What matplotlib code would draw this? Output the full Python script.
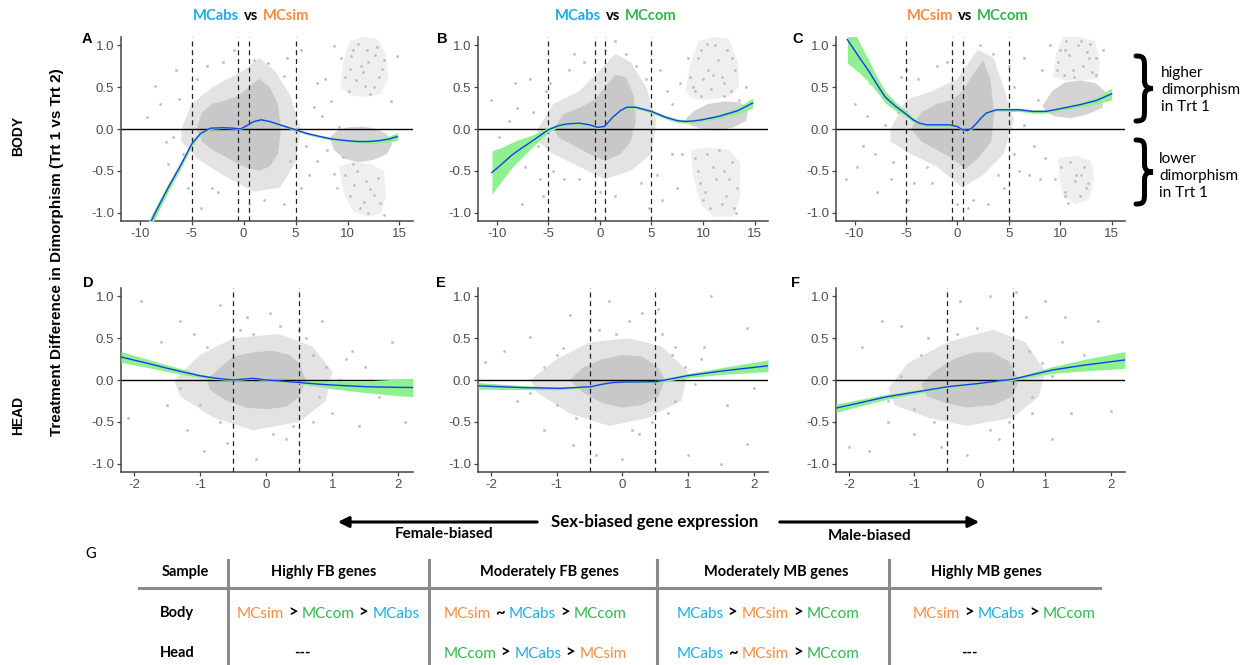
import numpy as np
import matplotlib.pyplot as plt
from matplotlib.offsetbox import TextArea, HPacker, AnnotationBbox
from matplotlib.path import Path
from matplotlib.patches import PathPatch

plt.rcParams['axes.unicode_minus'] = False

W, H = 1253, 665
BLUE = '#1AADE8'
ORANGE = '#FA8B3F'
GREEN = '#2EB84E'
PT = '#BDBDBD'

# ---- smooth fits (x, y, half-width of ribbon) ----
a_fit_x = [-10.3, -9.5, -8.5, -7.3, -6.0, -5.0, -4.2, -3.2, -2.0, -1.0, -0.3, 0.3, 1.0, 1.7, 2.5, 3.5,
           5.0, 6.0, 7.0, 8.5, 10.0, 11.0, 12.0, 13.0, 14.0, 14.8]
a_fit_y = [-1.45, -1.26, -1.0, -0.71, -0.42, -0.18, -0.06, 0.01, 0.015, 0.01, 0.0, 0.04, 0.09, 0.11, 0.09,
           0.05, -0.01, -0.05, -0.08, -0.12, -0.14, -0.15, -0.15, -0.14, -0.12, -0.09]
a_fit_se = [0.09, 0.08, 0.06, 0.05, 0.04, 0.03, 0.02, 0.015, 0.01, 0.01, 0.01, 0.01, 0.01, 0.01, 0.01, 0.01,
            0.015, 0.015, 0.015, 0.015, 0.015, 0.015, 0.02, 0.025, 0.035, 0.045]

b_fit_x = [-10.45, -9.5, -8.5, -7.7, -6.5, -5.0, -4.0, -3.2, -2.0, -1.0, -0.2, 0.45, 1.25, 2.0, 2.6, 3.5,
           5.0, 6.4, 7.5, 8.3, 9.0, 9.9, 11.5, 13.4, 14.8]
b_fit_y = [-0.52, -0.42, -0.31, -0.24, -0.14, -0.01, 0.04, 0.06, 0.07, 0.05, 0.02, 0.03, 0.14, 0.22, 0.26,
           0.26, 0.21, 0.14, 0.10, 0.09, 0.095, 0.11, 0.15, 0.22, 0.31]
b_fit_se = [0.26, 0.2, 0.15, 0.12, 0.07, 0.03, 0.02, 0.015, 0.015, 0.015, 0.015, 0.015, 0.015, 0.015, 0.015,
            0.015, 0.02, 0.02, 0.02, 0.02, 0.02, 0.02, 0.025, 0.035, 0.06]

c_fit_x = [-10.7, -9.5, -8.6, -7.8, -7.0, -6.0, -5.0, -4.3, -3.7, -3.0, -2.0, -0.8, 0.0, 0.5, 1.0, 1.4,
           1.8, 2.3, 2.8, 3.8, 5.0, 6.0, 7.3, 8.6, 9.9, 11.9, 13.5, 15.0]
c_fit_y = [1.07, 0.85, 0.69, 0.53, 0.38, 0.27, 0.18, 0.11, 0.07, 0.05, 0.05, 0.05, 0.03, -0.01, -0.02, 0.01,
           0.06, 0.13, 0.19, 0.23, 0.23, 0.23, 0.21, 0.21, 0.24, 0.29, 0.34, 0.42]
c_fit_se = [0.28, 0.18, 0.13, 0.09, 0.07, 0.05, 0.035, 0.025, 0.02, 0.015, 0.015, 0.015, 0.015, 0.015, 0.015,
            0.015, 0.015, 0.015, 0.015, 0.015, 0.02, 0.02, 0.02, 0.02, 0.02, 0.025, 0.04, 0.07]

d_fit_x = [-2.2, -1.8, -1.5, -1.2, -1.0, -0.75, -0.5, -0.2, 0.0, 0.25, 0.5, 0.8, 1.0, 1.5, 2.0, 2.22]
d_fit_y = [0.275, 0.2, 0.14, 0.085, 0.05, 0.02, 0.0, 0.02, 0.0, -0.015, -0.03, -0.05, -0.06, -0.08, -0.088, -0.09]
d_fit_se = [0.065, 0.05, 0.04, 0.03, 0.02, 0.015, 0.01, 0.01, 0.01, 0.01, 0.015, 0.03, 0.045, 0.07, 0.1, 0.11]

e_fit_x = [-2.2, -1.55, -0.95, -0.48, -0.3, -0.14, 0.0, 0.52, 0.98, 1.49, 2.22]
e_fit_y = [-0.07, -0.09, -0.10, -0.08, -0.05, -0.03, -0.025, -0.02, 0.05, 0.105, 0.17]
e_fit_se = [0.04, 0.025, 0.015, 0.01, 0.01, 0.01, 0.01, 0.015, 0.025, 0.04, 0.07]

f_fit_x = [-2.2, -1.42, -0.49, 0.0, 0.51, 1.11, 1.62, 2.22]
f_fit_y = [-0.336, -0.2, -0.08, -0.04, 0.01, 0.12, 0.18, 0.24]
f_fit_se = [0.05, 0.03, 0.015, 0.01, 0.015, 0.04, 0.07, 0.1]

# ---- dense point clouds (outlines) ----
a_core = [(-4.5, 0.0), (-4, 0.2), (-3, 0.3), (-1.5, 0.35), (-0.5, 0.4), (0.5, 0.5), (1.5, 0.6), (2.5, 0.5),
          (3.3, 0.3), (3.6, 0.0), (3.3, -0.3), (2.5, -0.45), (1.5, -0.5), (0, -0.45), (-1.5, -0.35),
          (-3, -0.25), (-4, -0.15)]
a_halo = [(-6, 0.0), (-5, 0.3), (-3, 0.5), (0, 0.7), (1.5, 0.85), (3, 0.7), (4.5, 0.4), (5.5, 0), (5, -0.4),
          (3.5, -0.7), (1, -0.75), (-2, -0.55), (-4.5, -0.35), (-6, -0.15)]
a_band = [(8.3, -0.1), (9.0, -0.02), (10, 0.02), (11.5, 0.03), (12.8, 0.0), (13.8, -0.06), (14.3, -0.18),
          (13.8, -0.3), (12.5, -0.37), (11, -0.4), (9.6, -0.35), (8.7, -0.25)]
a_light = [[(9.3, 0.5), (9.6, 0.8), (10.2, 1.05), (11.5, 1.1), (12.8, 1.08), (13.7, 0.9), (13.9, 0.6),
            (13.2, 0.42), (11.8, 0.38), (10.3, 0.4)],
           [(9.2, -0.45), (10.5, -0.4), (12.3, -0.42), (13.5, -0.5), (13.7, -0.8), (13.3, -1.0), (12, -1.05),
            (10.5, -0.98), (9.6, -0.75)]]

b_core = [(-4.5, 0.0), (-3.5, 0.18), (-2, 0.25), (-0.5, 0.35), (0.5, 0.5), (1.5, 0.65), (2.5, 0.62),
          (3.3, 0.4), (3.5, 0.1), (3.0, -0.15), (2, -0.3), (0.5, -0.38), (-1, -0.3), (-2.5, -0.2), (-4, -0.1)]
b_halo = [(-6, 0), (-4.5, 0.3), (-2, 0.45), (0, 0.7), (1.5, 0.9), (3, 0.8), (4.5, 0.5), (5.5, 0.1),
          (5, -0.3), (3, -0.5), (0.5, -0.6), (-2, -0.45), (-4.5, -0.3), (-6, -0.15)]
b_band = [(8.3, 0.12), (9.2, 0.22), (10.5, 0.3), (12, 0.33), (13.5, 0.32), (14.4, 0.26), (14.2, 0.1),
          (13, 0.02), (11.5, -0.02), (10, 0.0), (8.8, 0.04)]
b_light = [[(8.3, 0.45), (8.8, 0.8), (9.6, 1.05), (11, 1.1), (12.5, 1.08), (13.4, 0.8), (13.5, 0.5),
            (12.5, 0.38), (10.5, 0.35), (9, 0.36)],
           [(8.8, -0.25), (10.5, -0.22), (12.5, -0.25), (13.6, -0.4), (13.6, -0.8), (13.0, -1.05), (11.0, -1.05),
            (9.8, -0.9), (9.0, -0.55)]]

c_core = [(-4.5, 0.0), (-3.5, 0.2), (-2, 0.3), (-0.5, 0.35), (0.5, 0.45), (1.5, 0.65), (2.5, 0.82),
          (3.2, 0.6), (3.6, 0.2), (3.3, -0.15), (2, -0.35), (0.8, -0.48), (-0.5, -0.35), (-2, -0.25),
          (-3.5, -0.15)]
c_halo = [(-6.5, 0), (-5, 0.35), (-2.5, 0.45), (0, 0.6), (2, 0.95), (3.5, 0.85), (4.5, 0.5), (5.5, 0.1),
          (4.5, -0.3), (2.5, -0.55), (0.5, -0.7), (-2, -0.45), (-4.5, -0.3), (-6.5, -0.15)]
c_band = [(8.3, 0.28), (9.2, 0.45), (10.5, 0.56), (12, 0.58), (13.4, 0.55), (14.4, 0.45), (14.1, 0.25),
          (12.5, 0.17), (11, 0.13), (9.5, 0.15), (8.6, 0.2)]
c_light = [[(9.3, 0.62), (9.6, 0.9), (10.3, 1.1), (12, 1.1), (13.4, 1.05), (13.9, 0.8), (13.7, 0.6),
            (12, 0.58), (10.5, 0.58)],
           [(9.8, -0.35), (11.5, -0.32), (13, -0.38), (13.3, -0.6), (12.8, -0.85), (11.5, -0.9), (10.3, -0.8),
            (9.9, -0.55)]]

d_core = [(-0.9, 0.0), (-0.7, 0.15), (-0.5, 0.28), (-0.2, 0.33), (0.1, 0.35), (0.35, 0.3), (0.5, 0.2),
          (0.6, 0.0), (0.5, -0.2), (0.3, -0.32), (0, -0.35), (-0.3, -0.33), (-0.6, -0.25), (-0.85, -0.12)]
d_halo = [(-1.4, 0.0), (-1.0, 0.3), (-0.5, 0.5), (0.2, 0.55), (0.7, 0.4), (1.0, 0.1), (0.9, -0.25),
          (0.5, -0.5), (-0.2, -0.6), (-0.8, -0.45), (-1.3, -0.2)]
e_core = [(-0.8, 0.0), (-0.6, 0.15), (-0.3, 0.25), (0.0, 0.3), (0.3, 0.28), (0.55, 0.15), (0.65, 0.0),
          (0.55, -0.2), (0.3, -0.3), (0.0, -0.33), (-0.3, -0.28), (-0.6, -0.15)]
e_halo = [(-1.4, 0), (-1.0, 0.25), (-0.5, 0.45), (0.1, 0.5), (0.6, 0.4), (1.0, 0.1), (0.9, -0.25),
          (0.4, -0.45), (-0.2, -0.55), (-0.8, -0.4), (-1.3, -0.15)]
f_core = [(-0.9, -0.05), (-0.7, 0.1), (-0.4, 0.25), (-0.1, 0.33), (0.2, 0.33), (0.45, 0.22), (0.6, 0.0),
          (0.5, -0.2), (0.2, -0.3), (-0.2, -0.33), (-0.5, -0.28), (-0.8, -0.2)]
f_halo = [(-1.4, -0.1), (-1.1, 0.2), (-0.5, 0.45), (0.2, 0.6), (0.7, 0.45), (1.0, 0.1), (0.9, -0.2),
          (0.5, -0.45), (-0.2, -0.55), (-0.8, -0.45), (-1.3, -0.3)]

# ---- scattered single genes (x, y) ----
a_pts = [(-9.3, 0.14), (-8.5, 0.52), (-7.3, -0.42), (-6.2, 0.36), (-5.4, -0.7), (-4.1, -0.95), (-3.5, 0.75),
         (-0.9, 0.95), (1.0, 0.83), (2.3, 0.79), (3.9, 0.63), (5.5, 0.95), (7.1, 0.55), (8.4, 0.34), (8.7, 0.99),
         (10.3, 0.87), (11.3, 0.75), (11.9, 0.95), (12.5, 0.5), (13.5, 0.83), (14.8, 0.87), (9.6, -0.34),
         (10.6, -0.67), (11.6, -0.87), (12.5, -0.79), (13.5, -1.03), (8.7, -0.54), (7.1, -0.38), (5.5, -0.7),
         (3.9, -0.9), (4.5, -0.38), (6.8, 0.26), (9.2, 0.02), (13.8, -0.14), (14.2, 0.34), (6.0, -0.2),
         (7.8, 0.6), (9.0, -0.7), (-6.8, -0.1), (-2.5, -0.75),
         (9.8, 0.62), (10.1, 0.45), (10.5, 0.95), (10.8, 0.58), (11.0, 1.02), (11.5, 0.68), (12.0, 0.8),
         (12.2, 0.42), (12.8, 0.98), (13.0, 0.62), (13.3, 0.72), (10.2, 0.72), (11.7, 0.52), (12.6, 0.88),
         (9.4, 0.85), (9.8, -0.55), (10.2, -0.8), (10.9, -0.5), (11.2, -0.95), (11.8, -0.62), (12.2, -0.72),
         (12.9, -0.58), (13.1, -0.88), (10.5, -0.42), (12.0, -1.0), (-8.0, 0.3), (-7.5, -0.15), (-6.5, 0.7),
         (-5.8, -0.3), (-4.5, 0.6), (-3.0, -0.7), (-2.0, 0.8), (0.5, -0.9), (2.0, -0.85), (4.2, 0.85),
         (6.3, -0.55), (7.5, 0.15), (8.0, -0.25)]
b_pts = [(-10.5, 0.35), (-9.0, -0.25), (-8.2, 0.55), (-7.5, -0.9), (-6.5, 0.2), (-5.8, -0.6), (-5.2, 0.45),
         (-4.5, -0.5), (-3.0, 0.7), (-1.5, 0.8), (0.5, 0.95), (1.5, 1.05), (2.5, 0.9), (3.5, 0.75), (4.5, 0.6),
         (5.5, -0.55), (6.5, 0.45), (7.5, -0.7), (8.5, 0.85), (9.0, 0.5), (9.8, 0.95), (10.5, 0.7), (11.2, 1.0),
         (12.0, 0.55), (12.8, 0.85), (13.5, 0.35), (14.2, 0.5), (8.0, -0.3), (9.5, -0.5), (10.2, -0.75),
         (11.0, -0.45), (11.8, -0.9), (12.5, -0.6), (13.2, -1.0), (6.0, -0.85), (7.0, 0.3), (4.8, -0.95),
         (-6.0, -0.2), (-2.0, -0.6), (-8.8, 0.1),
         (8.7, 0.62), (9.2, 0.45), (9.5, 0.85), (10.0, 0.6), (10.4, 1.02), (10.8, 0.48), (11.5, 0.82),
         (11.8, 0.62), (12.3, 0.95), (12.7, 0.45), (13.1, 0.7), (9.8, 0.4), (11.0, 0.65), (12.0, 0.4),
         (9.2, -0.35), (9.7, -0.65), (10.4, -0.3), (10.7, -0.95), (11.3, -0.6), (11.6, -0.25), (12.2, -0.8),
         (12.8, -0.4), (13.3, -0.7), (10.0, -0.85), (12.0, -0.5), (13.0, -0.95), (-9.8, -0.1), (-8.0, 0.25),
         (-7.2, -0.45), (-6.8, 0.6), (-5.5, -0.8), (-4.8, 0.55), (-3.5, -0.6), (-2.5, 0.9), (0.0, -0.75),
         (1.5, -0.8), (4.0, -0.65), (5.8, 0.7), (7.0, -0.3), (7.8, 0.55)]
c_pts = [(-10.8, -0.6), (-10.0, 0.3), (-9.2, -0.2), (-8.5, 0.55), (-7.8, -0.75), (-7.0, 0.05), (-6.3, -0.4),
         (-5.5, 0.62), (-4.8, -0.85), (-3.8, 0.6), (-2.5, -0.65), (-1.0, 0.8), (0.0, -0.9), (1.0, -0.95),
         (2.2, 1.0), (3.5, 0.9), (4.5, -0.7), (5.5, 0.5), (6.5, 0.85), (7.5, -0.2), (8.2, 0.7), (9.0, 1.0),
         (9.8, 0.8), (10.5, 0.95), (11.2, 0.7), (12.0, 1.05), (12.8, 0.85), (13.5, 0.65), (14.2, 0.95),
         (7.0, -0.55), (8.5, -0.35), (9.5, -0.6), (10.5, -0.8), (11.5, -0.55), (12.5, -0.7), (5.5, -0.3),
         (6.5, 0.05), (-6.0, 0.25), (-3.0, -0.45), (4.0, -0.55),
         (9.7, 0.7), (10.0, 0.95), (10.4, 0.65), (10.9, 0.88), (11.3, 0.62), (11.7, 1.0), (12.2, 0.75),
         (12.6, 0.92), (13.1, 0.68), (13.5, 0.85), (10.6, 1.05), (12.9, 1.02), (10.1, -0.45), (10.5, -0.75),
         (11.0, -0.4), (11.4, -0.62), (11.9, -0.8), (12.3, -0.45), (12.7, -0.65), (10.8, -0.88), (12.0, -0.55),
         (-9.8, -0.45), (-8.8, 0.15), (-8.0, -0.3), (-7.4, 0.45), (-6.5, -0.6), (-5.8, 0.2), (-5.0, 0.7),
         (-4.2, -0.65), (-2.0, 0.75), (0.5, 0.8), (1.5, -0.85), (3.0, -0.9), (5.0, 0.75), (6.0, -0.5),
         (7.8, 0.35), (8.0, -0.6)]
d_pts = [(-1.9, 0.95), (-2.1, -0.45), (-1.8, 0.2), (-1.6, 0.45), (-1.5, -0.3), (-1.3, 0.7), (-1.2, -0.6),
         (-1.1, 0.55), (-0.95, -0.85), (-0.7, 0.9), (-0.6, -0.75), (-0.3, 0.75), (-0.15, -0.95), (0.05, 0.8),
         (0.2, 0.65), (0.3, -0.7), (0.5, 0.6), (0.7, -0.5), (0.85, 0.7), (1.0, -0.4), (1.2, 0.25), (1.4, -0.55),
         (1.5, 0.15), (1.9, 0.45), (2.1, -0.5), (1.7, -0.2), (-1.2, 0.1), (-1.0, -0.3), (-0.9, 0.4), (-0.7, -0.5),
         (0.7, 0.3), (0.8, -0.2), (0.6, 0.5), (0.9, 0.15), (-0.4, 0.6), (0.1, -0.65), (-0.2, 0.55), (0.4, -0.55),
         (1.1, 0.0), (-1.3, -0.1), (1.3, 0.35)]
e_pts = [(-2.1, 0.22), (-1.8, 0.35), (-1.6, -0.25), (-1.4, 0.52), (-1.2, -0.6), (-1.0, 0.3), (-0.8, 0.78),
         (-0.75, -0.78), (-0.5, 0.6), (-0.4, -0.9), (-0.2, 0.95), (0.0, -0.95), (0.1, 0.7), (0.25, -0.65),
         (0.3, 0.8), (0.55, 0.85), (0.7, -0.4), (0.8, 0.4), (1.0, -0.9), (1.2, 0.25), (1.35, 1.0), (1.5, -1.0),
         (1.6, -0.3), (1.9, 0.62), (1.9, -0.77), (2.0, -0.1), (-1.2, 0.15), (-1.0, -0.3), (-0.9, 0.38),
         (-0.7, -0.45), (0.75, 0.3), (0.8, -0.25), (0.6, 0.55), (0.95, 0.15), (-0.35, 0.6), (0.15, -0.6),
         (-0.1, 0.55), (0.45, -0.5), (1.1, -0.05), (-1.4, -0.15), (1.25, 0.4)]
f_pts = [(-2.0, -0.8), (-1.8, 0.4), (-1.7, -0.85), (-1.5, 0.7), (-1.4, -0.5), (-1.2, 0.65), (-1.0, -0.65),
         (-0.8, 0.5), (-0.6, -0.8), (-0.3, 0.95), (-0.2, -0.9), (0.15, 1.0), (0.3, -0.7), (0.55, 1.05),
         (0.7, 0.75), (0.8, -0.4), (1.0, 0.95), (1.1, -0.7), (1.3, 0.75), (1.4, -0.4), (1.8, 0.7), (2.0, -0.37),
         (1.6, 0.3), (2.1, 0.2), (-1.2, 0.05), (-1.0, -0.35), (-0.9, 0.3), (-0.7, -0.5), (0.75, 0.35),
         (0.8, -0.2), (0.5, 0.6), (0.95, 0.2), (-0.35, 0.55), (0.15, -0.6), (-0.05, 0.62), (0.45, -0.5),
         (1.1, 0.05), (-1.4, -0.25), (1.25, 0.45)]

body_lines = [-5, -0.5, 0.5, 5]
head_lines = [-0.5, 0.5]
body_xlim = (-11.8, 16.3)
head_xlim = (-2.2, 2.22)

# ---- table ----
headers = ['Sample', 'Highly FB genes', 'Moderately FB genes', 'Moderately MB genes', 'Highly MB genes']
row_names = ['Body', 'Head']
body_row = [['MCsim', 'MCcom', 'MCabs'], ['MCsim', 'MCabs', 'MCcom'],
            ['MCabs', 'MCsim', 'MCcom'], ['MCsim', 'MCabs', 'MCcom']]
body_ops = [['>', '>'], ['~', '>'], ['>', '>'], ['>', '>']]
head_row = [None, ['MCcom', 'MCabs', 'MCsim'], ['MCabs', 'MCsim', 'MCcom'], None]
head_ops = [None, ['>', '>'], ['~', '>'], None]
tcolor = {'MCabs': BLUE, 'MCsim': ORANGE, 'MCcom': GREEN}

fig = plt.figure(figsize=(W / 100, H / 100), dpi=100)


def rect(l, t, r, b):
    return [l / W, 1 - b / H, (r - l) / W, (b - t) / H]


def panel(box, xlim, xticks, vlines, fx, fy, fse, core, halo, band, light, pts):
    ax = fig.add_axes(rect(*box))
    for poly in light:
        ax.fill(*zip(*poly), color='#EFEFEF', lw=0, zorder=0)
    ax.fill(*zip(*halo), color='#E3E3E3', lw=0, zorder=0)
    if band:
        ax.fill(*zip(*band), color='#D4D4D4', lw=0, zorder=0)
    ax.fill(*zip(*core), color='#C8C8C8', lw=0, zorder=0)
    px, py = zip(*pts)
    ax.scatter(px, py, s=4, color=PT, lw=0, zorder=1)
    ax.axhline(0, color='black', lw=1, zorder=2)
    for v in vlines:
        ax.axvline(v, color='#222222', lw=0.9, ls=(0, (4, 3)), zorder=2)
    fx, fy, fse = np.array(fx), np.array(fy), np.array(fse)
    ax.fill_between(fx, fy - fse, fy + fse, color='#8EF08E', lw=0, zorder=3)
    ax.plot(fx, fy, color='#1A3BF0', lw=1, zorder=4)
    ax.set_xlim(*xlim)
    ax.set_ylim(-1.1, 1.1)
    ax.set_xticks(xticks)
    ax.set_yticks([-1.0, -0.5, 0.0, 0.5, 1.0])
    ax.set_yticklabels(['-1.0', '-0.5', '0.0', '0.5', '1.0'])
    for s in ['top', 'right']:
        ax.spines[s].set_visible(False)
    for s in ['left', 'bottom']:
        ax.spines[s].set_color('#444444')
        ax.spines[s].set_linewidth(1.1)
    ax.tick_params(length=3, width=0.9, color='#444444', labelcolor='#4D4D4D', labelsize=9.5, pad=2)
    for lab in ax.get_xticklabels() + ax.get_yticklabels():
        lab.set_family('Liberation Sans')
    return ax


bt = [-10, -5, 0, 5, 10, 15]
ht = [-2, -1, 0, 1, 2]
panel((121, 37, 413, 221), body_xlim, bt, body_lines, a_fit_x, a_fit_y, a_fit_se, a_core, a_halo, a_band, a_light,
      a_pts)
panel((478, 37, 768, 221), body_xlim, bt, body_lines, b_fit_x, b_fit_y, b_fit_se, b_core, b_halo, b_band, b_light,
      b_pts)
panel((836, 37, 1125, 221), body_xlim, bt, body_lines, c_fit_x, c_fit_y, c_fit_se, c_core, c_halo, c_band, c_light,
      c_pts)
panel((121, 288, 413, 472), head_xlim, ht, head_lines, d_fit_x, d_fit_y, d_fit_se, d_core, d_halo, None, [], d_pts)
panel((478, 288, 768, 472), head_xlim, ht, head_lines, e_fit_x, e_fit_y, e_fit_se, e_core, e_halo, None, [], e_pts)
panel((836, 288, 1125, 472), head_xlim, ht, head_lines, f_fit_x, f_fit_y, f_fit_se, f_core, f_halo, None, [], f_pts)

# overlay in pixel coordinates (origin top-left)
ov = fig.add_axes([0, 0, 1, 1], zorder=10)
ov.set_xlim(0, W)
ov.set_ylim(H, 0)
ov.axis('off')


def rich(x, y, parts, size, sep=3.0):
    boxes = [TextArea(t, textprops=dict(color=c, fontsize=s, fontweight=w, family='Lato'))
             for t, c, w, s in parts]
    pack = HPacker(children=boxes, align='baseline', pad=0, sep=sep)
    ov.add_artist(AnnotationBbox(pack, (x, y), xycoords='data', frameon=False, box_alignment=(0.5, 0.5), pad=0))


def brace(x0, y0, y1, w):
    ym = (y0 + y1) / 2
    xm = x0 + w * 0.5
    xt = x0 + w
    verts = [(x0, y0), (xm, y0), (xm, y0 + 3), (xm, y0 + 12),
             (xm, ym - 8),
             (xm, ym - 2), (xm + 3, ym), (xt, ym),
             (xm + 3, ym), (xm, ym + 2), (xm, ym + 8),
             (xm, y1 - 12),
             (xm, y1 - 3), (xm, y1), (x0, y1)]
    codes = [Path.MOVETO] + [Path.CURVE4] * 3 + [Path.LINETO] + [Path.CURVE4] * 6 + [Path.LINETO] + \
            [Path.CURVE4] * 3
    ov.add_patch(PathPatch(Path(verts, codes), fill=False, lw=3.6, color='black', capstyle='round'))


ts = 10.6
rich(251, 16, [('MCabs', BLUE, 'bold', ts), ('vs', 'black', 'bold', ts), ('MCsim', ORANGE, 'bold', ts)], ts, 3.5)
rich(616, 16, [('MCabs', BLUE, 'bold', ts), ('vs', 'black', 'bold', ts), ('MCcom', GREEN, 'bold', ts)], ts, 3.5)
rich(968, 16, [('MCsim', ORANGE, 'bold', ts), ('vs', 'black', 'bold', ts), ('MCcom', GREEN, 'bold', ts)], ts, 3.5)

for letter, x, y in [('A', 87, 39), ('B', 442, 39), ('C', 798, 39), ('D', 88, 283), ('E', 441, 283), ('F', 796, 283)]:
    ov.text(x, y, letter, ha='center', va='center', fontsize=10.5, fontweight='bold', family='Liberation Sans')

ov.text(18, 136, 'BODY', rotation=90, ha='center', va='center', fontsize=10, fontweight='bold',
        family='Liberation Sans')
ov.text(18, 415, 'HEAD', rotation=90, ha='center', va='center', fontsize=10, fontweight='bold',
        family='Liberation Sans')
ov.text(57, 252, 'Treatment Difference in Dimorphism (Trt 1 vs Trt 2)', rotation=90, ha='center', va='center',
        fontsize=11, fontweight='bold', family='Liberation Sans')

# braces and notes on the right
brace(1136, 56, 121, 17)
brace(1136, 140, 204, 17)
ov.text(1161, 90, 'higher\ndimorphism\nin Trt 1', ha='left', va='center', fontsize=11, family='Lato',
        linespacing=1.25)
ov.text(1159, 176, 'lower\ndimorphism\nin Trt 1', ha='left', va='center', fontsize=11, family='Lato',
        linespacing=1.25)

# sex-biased axis
ov.annotate('', xy=(335, 522), xytext=(540, 522),
            arrowprops=dict(arrowstyle='-|>', color='black', lw=2.2, mutation_scale=16))
ov.annotate('', xy=(982, 522), xytext=(777, 522),
            arrowprops=dict(arrowstyle='-|>', color='black', lw=2.2, mutation_scale=16))
ov.text(655, 522, 'Sex-biased gene expression', ha='center', va='center', fontsize=12.2, fontweight='bold',
        family='Lato')
ov.text(444, 534, 'Female-biased', ha='center', va='center', fontsize=11, fontweight='bold', family='Lato')
ov.text(870, 536, 'Male-biased', ha='center', va='center', fontsize=11, fontweight='bold', family='Lato')

# table G
ov.text(91, 554, 'G', ha='center', va='center', fontsize=10.5, family='Lato')
ov.plot([139, 1100], [588, 588], color='#8A8A8A', lw=2.2)
for vx in [228, 429, 657, 889]:
    ov.plot([vx, vx], [560, 665], color='#8A8A8A', lw=2.2)
col_x = [185, 324, 550, 776, 986]
for cx, h in zip(col_x, headers):
    ov.text(cx, 572, h, ha='center', va='center', fontsize=10.5, fontweight='bold', family='Lato')
ov.text(160, 613, row_names[0], ha='left', va='center', fontsize=10.5, fontweight='bold', family='Lato')
ov.text(160, 653, row_names[1], ha='left', va='center', fontsize=10.5, fontweight='bold', family='Lato')

cell_x = [328, 535, 768, 1004]
dash_x = [302, 0, 0, 969]
for row, ops, y in [(body_row, body_ops, 613), (head_row, head_ops, 653)]:
    for i, (names, op) in enumerate(zip(row, ops)):
        if names is None:
            ov.text(dash_x[i], y, '---', ha='center', va='center', fontsize=10.5, fontweight='bold',
                    family='Lato')
            continue
        parts = [(names[0], tcolor[names[0]], 'normal', 11), (op[0], 'black', 'bold', 12),
                 (names[1], tcolor[names[1]], 'normal', 11), (op[1], 'black', 'bold', 12),
                 (names[2], tcolor[names[2]], 'normal', 11)]
        rich(cell_x[i], y, parts, 11, 3)

fig.savefig('out.png', dpi=100)
